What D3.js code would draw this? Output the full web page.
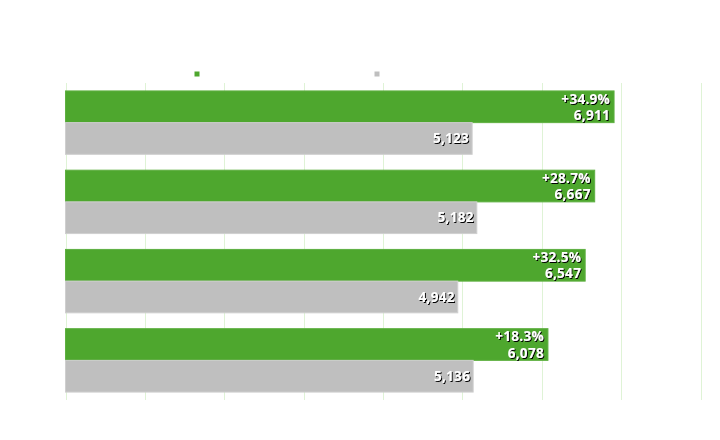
<!DOCTYPE html>
<html><head><meta charset="utf-8">
<script src="https://cdn.jsdelivr.net/npm/d3@7"></script>
<style>
html,body{margin:0;padding:0;background:#fff;}
svg{display:block;}
.lbl{font-family:"Open Sans",sans-serif;font-weight:700;font-size:13.5px;letter-spacing:0.3px;fill:#fff;}
</style></head>
<body>
<svg id="c" width="720" height="440"></svg>
<script>
const categories = ["A", "B", "C", "D"];
const currentValues = [6911, 6667, 6547, 6078];
const previousValues = [5123, 5182, 4942, 5136];
const changeLabels = ["+34.9%", "+28.7%", "+32.5%", "+18.3%"];
const xTicks = [0, 1000, 2000, 3000, 4000, 5000, 6000, 7000, 8000];
const seriesNames = ["current", "previous"];
const seriesColors = ["#4EA72E", "#BFBFBF"];

(function() {
const svg = d3.select("#c");
const defs = svg.append("defs");
const f = defs.append("filter").attr("id","sh").attr("x","-10%").attr("y","-20%").attr("width","130%").attr("height","160%");
f.append("feDropShadow").attr("dx",1).attr("dy",1).attr("stdDeviation",0.5).attr("flood-color","#000").attr("flood-opacity",1);

const pl = 65.5, pr = 700.5, pt = 83, pb = 400;
const x = d3.scaleLinear().domain([0, 8000]).range([pl, pr]);
const y0 = d3.scaleBand().domain(categories).range([pt, pb]).paddingInner(0.2).paddingOuter(0.1);
const y1 = d3.scaleBand().domain(seriesNames).range([0, y0.bandwidth()]);
const color = d3.scaleOrdinal().domain(seriesNames).range(seriesColors);

// grid
svg.append("g").selectAll("line").data(xTicks).join("line")
  .attr("x1", d => Math.round(x(d)) + 0.5).attr("x2", d => Math.round(x(d)) + 0.5)
  .attr("y1", pt).attr("y2", pb)
  .attr("stroke", "#dff3d6").attr("stroke-width", 1);

const rows = categories.map((c, i) => ({c, vals: [currentValues[i], previousValues[i]], pct: changeLabels[i]}));

const g = svg.append("g").selectAll("g").data(rows).join("g")
  .attr("transform", d => `translate(0,${y0(d.c)})`);

g.selectAll("rect").data(d => d.vals.map((v, j) => ({s: seriesNames[j], v})))
  .join("rect")
  .attr("x", x(0)).attr("y", d => y1(d.s))
  .attr("width", d => x(d.v) - x(0)).attr("height", y1.bandwidth())
  .attr("fill", d => color(d.s))
  .attr("stroke", d => d.s === "current" ? "#5fb042" : "#cfcfcf")
  .attr("stroke-width", 1);

// labels
g.each(function(d) {
  const gg = d3.select(this);
  const cx = x(d.vals[0]) - 4;
  const yc = y1("current");
  const h = y1.bandwidth();
  gg.append("text").attr("class","lbl").attr("filter","url(#sh)")
    .attr("x", cx).attr("y", yc + h/2 - 8).attr("dy","0.35em").attr("text-anchor","end").text(d.pct);
  gg.append("text").attr("class","lbl").attr("filter","url(#sh)")
    .attr("x", cx).attr("y", yc + h/2 + 8.5).attr("dy","0.35em").attr("text-anchor","end").text(d3.format(",")(d.vals[0]));
  gg.append("text").attr("class","lbl").attr("filter","url(#sh)")
    .attr("x", x(d.vals[1]) - 3).attr("y", y1("previous") + h/2).attr("dy","0.35em").attr("text-anchor","end").text(d3.format(",")(d.vals[1]));
});

// legend markers
const legendX = [194.5, 374.5];
svg.append("g").selectAll("rect").data(seriesNames).join("rect")
  .attr("x", (d, i) => legendX[i]).attr("y", 71.5).attr("width", 5).attr("height", 5)
  .attr("fill", d => color(d));
})();
</script>
</body></html>
